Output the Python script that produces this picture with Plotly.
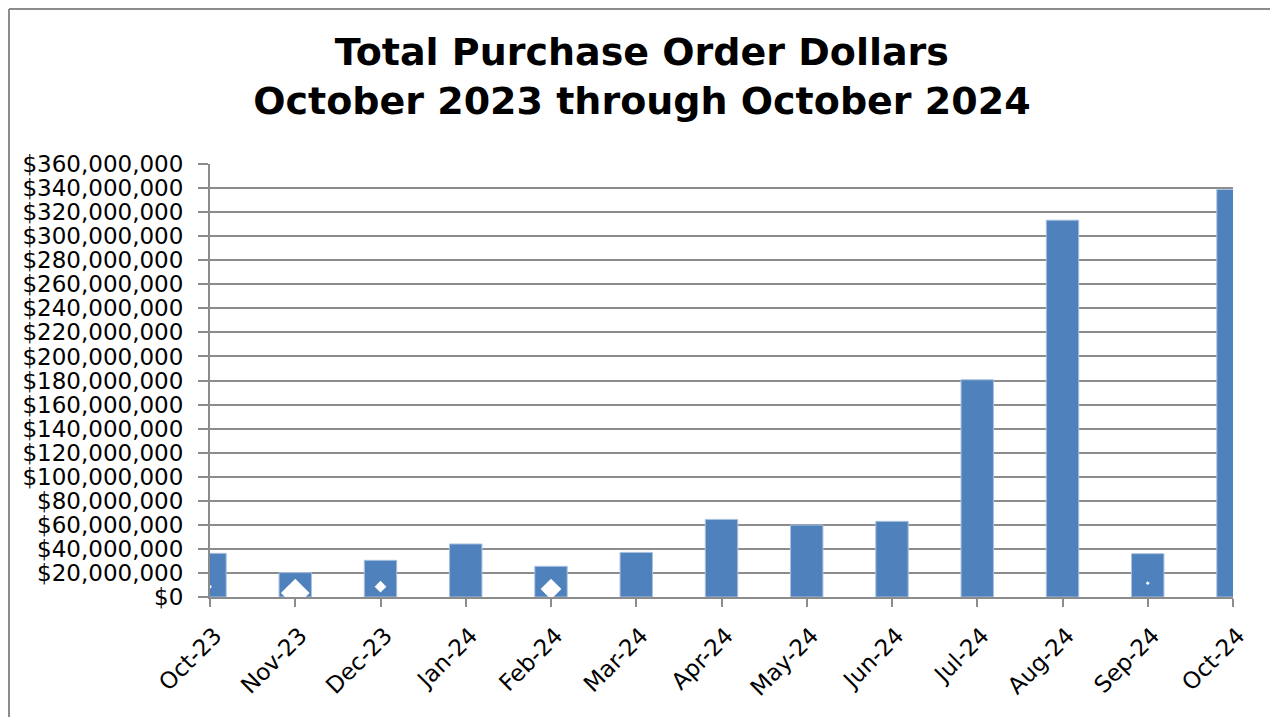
import plotly.graph_objects as go

months = ["Oct-23", "Nov-23", "Dec-23", "Jan-24", "Feb-24", "Mar-24", "Apr-24",
          "May-24", "Jun-24", "Jul-24", "Aug-24", "Sep-24", "Oct-24"]
po_dollars = [36300000, 20200000, 30500000, 44100000, 25500000, 37100000, 64500000,
              59800000, 62900000, 180600000, 313300000, 36000000, 338900000]

# small white diamond artifacts visible over some bars
marker_months = ["Oct-23", "Nov-23", "Dec-23", "Feb-24", "Sep-24"]
marker_values = [8500000, 3300000, 8600000, 6600000, 11500000]
marker_sizes = [3, 22, 9, 16, 3]

tick_vals = list(range(0, 360000001, 20000000))
tick_text = ["${:,}".format(v) for v in tick_vals]

grid_color = "#8c8c8c"

# plot area in figure pixels (page adds an 8px body margin)
L, T, R, B = 202, 156, 53, 128
PW, PH = 1278 - L - R, 717 - T - B

fig = go.Figure()
fig.add_trace(go.Bar(
    x=months, y=po_dollars,
    marker=dict(color="#4F81BD", line=dict(color="#A9C1DF", width=1)),
    width=0.38, hoverinfo="x+y", showlegend=False,
))
fig.add_trace(go.Scatter(
    x=marker_months, y=marker_values, mode="markers",
    marker=dict(symbol="diamond", color="white", size=marker_sizes, opacity=1, line=dict(width=0)),
    hoverinfo="skip", showlegend=False,
))

fig.update_layout(
    width=1278, height=717,
    margin=dict(l=L, r=R, t=T, b=B),
    paper_bgcolor="white", plot_bgcolor="white",
    title=dict(
        text="Total Purchase Order Dollars<br>October 2023 through October 2024",
        x=0.496, xanchor="center", y=0.921, yanchor="middle",
        font=dict(family="DejaVu Sans", size=38, color="black", weight="bold"),
    ),
    font=dict(family="DejaVu Sans", color="black"),
)
fig.update_xaxes(
    type="category", range=[0, 12], automargin=False,
    showline=True, linecolor=grid_color, linewidth=2,
    ticks="outside", ticklen=8, tickwidth=2, tickcolor=grid_color,
    tickangle=-45, tickfont=dict(size=23, color="black"),
    ticklabelstandoff=6, ticklabelshift=5,
    showgrid=False,
)
fig.update_yaxes(
    range=[0, 360000000], tickvals=tick_vals, ticktext=tick_text, automargin=False,
    showline=True, linecolor=grid_color, linewidth=2,
    ticks="outside", ticklen=10, tickwidth=2, tickcolor=grid_color,
    showgrid=True, gridcolor=grid_color, gridwidth=2,
    tickfont=dict(size=23, color="black"),
    ticklabelstandoff=10,
    zeroline=False,
)
# outer chart frame (left and top edges)
fx = (1 - L) / PW
fy = (717 - B - 1) / PH
fig.add_shape(type="line", xref="paper", yref="paper",
              x0=fx, x1=fx, y0=-0.4, y1=fy,
              line=dict(color="#8c8c8c", width=2))
fig.add_shape(type="line", xref="paper", yref="paper",
              x0=fx, x1=1.1, y0=fy, y1=fy,
              line=dict(color="#8c8c8c", width=2))

fig.write_html("out.html")
